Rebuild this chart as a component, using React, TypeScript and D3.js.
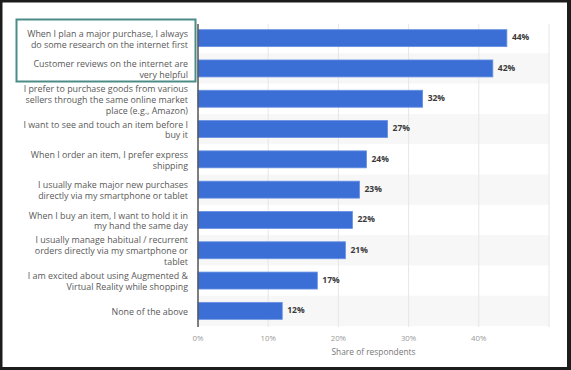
import { useRef, useEffect } from 'react'
import * as d3 from 'd3'

// Encuesta: hábitos de compra online (share of respondents)
const categories = [
  'When I plan a major purchase, I always\ndo some research on the internet first',
  'Customer reviews on the internet are\nvery helpful',
  'I prefer to purchase goods from various\nsellers through the same online market\nplace (e.g., Amazon)',
  'I want to see and touch an item before I\nbuy it',
  'When I order an item, I prefer express\nshipping',
  'I usually make major new purchases\ndirectly via my smartphone or tablet',
  'When I buy an item, I want to hold it in\nmy hand the same day',
  'I usually manage habitual / recurrent\norders directly via my smartphone or\ntablet',
  'I am excited about using Augmented &\nVirtual Reality while shopping',
  'None of the above',
]
const values = [44, 42, 32, 27, 24, 23, 22, 21, 17, 12]
const xTicks = [0, 10, 20, 30, 40, 50]
const xLabels = ['0%', '10%', '20%', '30%', '40%', '']
const axisTitle = 'Share of respondents'

const W = 571
const H = 370
const FONT = '"Open Sans", "Noto Sans", sans-serif'

export default function App() {
  const svgRef = useRef<SVGSVGElement>(null)

  useEffect(() => {
    const svg = d3.select(svgRef.current).attr('width', W).attr('height', H)
    svg.selectAll('*').remove()

    // marco oscuro del pantallazo
    svg.append('rect').attr('width', W).attr('height', H).attr('fill', '#1c1c1c')
    svg.append('rect').attr('x', 2.5).attr('y', 2.5).attr('width', 564.5).attr('height', 364.5).attr('fill', '#fff')

    const margin = { top: 23, left: 198, right: 549, bottom: 326 }
    const data = categories.map((c, i) => ({ cat: c, val: values[i], i }))

    const x = d3.scaleLinear().domain([0, 50]).range([margin.left, margin.right])
    const y = d3.scaleBand<string>()
      .domain(categories)
      .range([margin.top, margin.bottom])
      .paddingInner(0.44)
      .paddingOuter(0.22)
    const step = y.step()

    // filas alternas
    svg.append('g').selectAll('rect')
      .data(data.filter(d => d.i % 2 === 1))
      .join('rect')
      .attr('x', margin.left)
      .attr('y', d => (y(d.cat) as number) - step * 0.22)
      .attr('width', margin.right - margin.left)
      .attr('height', step)
      .attr('fill', '#f7f7f7')

    // grid
    svg.append('g').selectAll('line')
      .data(xTicks.slice(1))
      .join('line')
      .attr('x1', d => x(d)).attr('x2', d => x(d))
      .attr('y1', margin.top + 1).attr('y2', margin.bottom + 1)
      .attr('stroke', '#e6e6e6')
      .attr('stroke-width', 1)

    // barras
    svg.append('g').selectAll('rect')
      .data(data)
      .join('rect')
      .attr('x', x(0))
      .attr('y', d => y(d.cat) as number)
      .attr('width', d => x(d.val) - x(0))
      .attr('height', y.bandwidth())
      .attr('fill', '#3c6fd5')
      .attr('stroke', '#6790e3')
      .attr('stroke-width', 0.8)

    // eje vertical
    svg.append('line')
      .attr('x1', x(0)).attr('x2', x(0))
      .attr('y1', margin.top + 1).attr('y2', margin.bottom + 1)
      .attr('stroke', '#555').attr('stroke-width', 1.5)

    // valores
    svg.append('g').selectAll('text')
      .data(data)
      .join('text')
      .attr('x', d => x(d.val) + 5)
      .attr('y', d => (y(d.cat) as number) + y.bandwidth() / 2)
      .attr('dominant-baseline', 'middle')
      .attr('font-family', FONT)
      .attr('font-size', '8.5px')
      .attr('font-weight', 700)
      .attr('fill', '#3a3a3a')
      .text(d => d.val + '%')

    // etiquetas de categoria
    const lineH = 10.8
    const labels = svg.append('g').selectAll('text')
      .data(data)
      .join('text')
      .attr('x', 188)
      .attr('y', d => (y(d.cat) as number) + y.bandwidth() / 2 + 1)
      .attr('text-anchor', 'end')
      .attr('font-family', FONT)
      .attr('font-size', '8.9px')
      .attr('fill', '#595959')
    labels.each(function (d) {
      const lines = d.cat.split('\n')
      const t = d3.select(this)
      lines.forEach((ln, k) => {
        t.append('tspan')
          .attr('x', 188)
          .attr('dy', k === 0 ? (-(lines.length - 1) * lineH / 2) + 3 : lineH)
          .text(ln)
      })
    })

    // ticks eje x
    svg.append('g').selectAll('text')
      .data(xTicks)
      .join('text')
      .attr('x', d => x(d))
      .attr('y', 341)
      .attr('text-anchor', 'middle')
      .attr('font-family', FONT)
      .attr('font-size', '7.8px')
      .attr('fill', '#9a9a9a')
      .text((d, i) => xLabels[i])

    svg.append('text')
      .attr('x', (margin.left + margin.right) / 2)
      .attr('y', 355)
      .attr('text-anchor', 'middle')
      .attr('font-family', FONT)
      .attr('font-size', '8.4px')
      .attr('fill', '#777')
      .text(axisTitle)

    // recuadro resaltado
    svg.append('rect')
      .attr('x', 16.5).attr('y', 19.5)
      .attr('width', 179).attr('height', 62)
      .attr('fill', 'none')
      .attr('stroke', '#4b8c87')
      .attr('stroke-width', 2)
  }, [])

  return <svg ref={svgRef} style={{ position: 'absolute', top: 0, left: 0, display: 'block' }} />
}
